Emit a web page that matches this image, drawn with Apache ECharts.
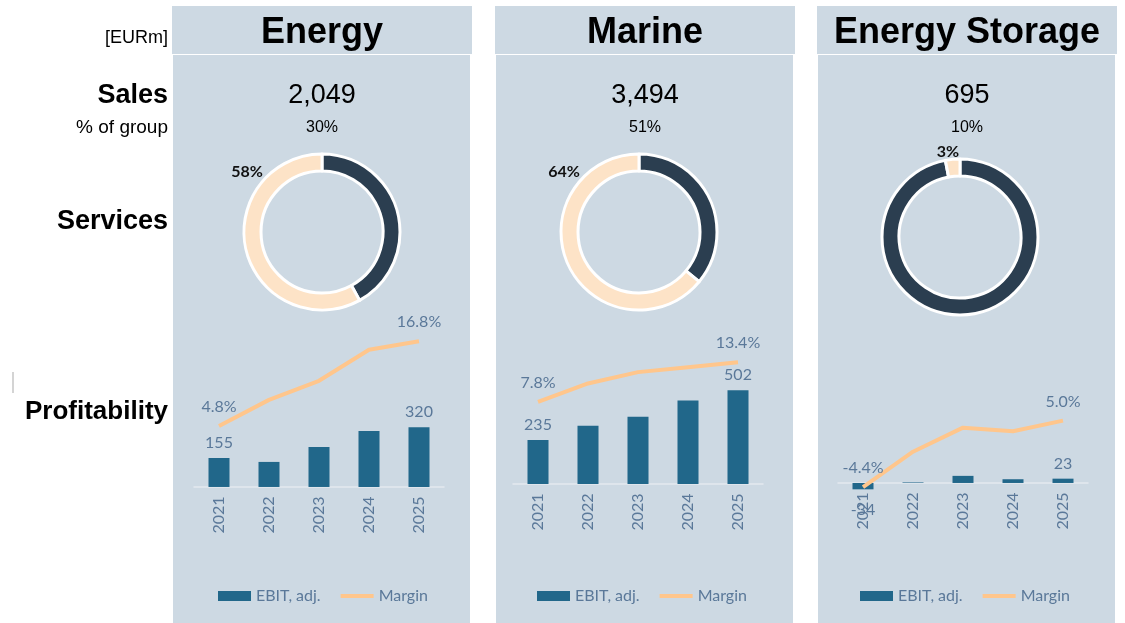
<!DOCTYPE html>
<html>
<head>
<meta charset="utf-8">
<script src="https://cdn.jsdelivr.net/npm/echarts@6/dist/echarts.min.js"></script>
<style>
  html, body { margin: 0; padding: 0; background: #ffffff; }
  #chart { width: 1125px; height: 623px; }
</style>
</head>
<body>
<div id="chart"></div>
<script>
// Segment names, group sales and services share
const segmentNames = ['Energy', 'Marine', 'Energy Storage'];
const salesValues = [2049, 3494, 695];
const salesSharePct = [30, 51, 10];
const servicesSharePct = [58, 64, 3];

// Profitability by year (EBIT adj. in EURm, margin in %)
const years = ['2021', '2022', '2023', '2024', '2025'];
const energyEbit = [155, 134, 214, 299, 320];
const energyMargin = [4.8, 8.5, 11.2, 15.6, 16.8];
const marineEbit = [235, 312, 360, 447, 502];
const marineMargin = [7.8, 10.4, 12.0, 12.7, 13.4];
const storageEbit = [-34, 3, 38, 20, 23];
const storageMargin = [-4.4, 0.6, 4.0, 3.5, 5.0];

const ebitBySegment = [energyEbit, marineEbit, storageEbit];
const marginBySegment = [energyMargin, marineMargin, storageMargin];

// Layout
const panelX = [172, 495, 817];
const panelW = 300;
const gridLeft = [194, 513, 838];
const gridTop = [309.4, 306.4, 305.4];
const donutCenters = [[322, 232], [639, 232], [960, 237]];
const donutLabelPos = [[247, 172], [564, 172], [948, 152]];
const legendLeft = [213, 532, 855];

const BG = '#CDD9E3';
const DARK = '#2B3E50';
const PEACH = '#FDE3C7';
const BAR = '#21678A';
const LINE = '#FFC68C';
const LABEL = '#5A7899';
const chartFont = 'Lato, "Open Sans", sans-serif';
const headFont = '"Liberation Sans", Arial, sans-serif';

const chart = echarts.init(document.getElementById('chart'), null, { renderer: 'canvas' });

const graphics = [];
// panel backgrounds, headings and sales figures
panelX.forEach((x, i) => {
  graphics.push({ type: 'rect', z: -10, shape: { x: x, y: 6, width: panelW, height: 48 }, style: { fill: BG } });
  graphics.push({ type: 'rect', z: -10, shape: { x: x + 1, y: 55, width: panelW - 3, height: 568 }, style: { fill: BG } });
  const cx = x + panelW / 2;
  graphics.push({ type: 'text', x: cx, y: 33, style: { text: segmentNames[i], font: 'bold 36px ' + headFont, fill: '#000', align: 'center', verticalAlign: 'middle' } });
  graphics.push({ type: 'text', x: cx, y: 96, style: { text: salesValues[i].toLocaleString('en-US'), font: '27px ' + headFont, fill: '#000', align: 'center', verticalAlign: 'middle' } });
  graphics.push({ type: 'text', x: cx, y: 128, style: { text: salesSharePct[i] + '%', font: '16px ' + headFont, fill: '#000', align: 'center', verticalAlign: 'middle' } });
  graphics.push({ type: 'text', x: donutLabelPos[i][0], y: donutLabelPos[i][1], style: { text: servicesSharePct[i] + '%', font: 'bold 16px ' + chartFont, fill: '#111', align: 'center', verticalAlign: 'middle' } });
});
// row captions
const rowCaptions = [
  { text: '[EURm]', y: 38, font: '18px ' + headFont },
  { text: 'Sales', y: 96, font: 'bold 27px ' + headFont },
  { text: '% of group', y: 128, font: '19px ' + headFont },
  { text: 'Services', y: 222, font: 'bold 27px ' + headFont },
  { text: 'Profitability', y: 412, font: 'bold 26px ' + headFont }
];
rowCaptions.forEach(c => {
  graphics.push({ type: 'text', x: 168, y: c.y, style: { text: c.text, font: c.font, fill: '#000', align: 'right', verticalAlign: 'middle' } });
});
graphics.push({ type: 'line', shape: { x1: 13, y1: 372, x2: 13, y2: 393 }, style: { stroke: '#D4D4D4', lineWidth: 2 } });

const grids = [], xAxes = [], yAxes = [], series = [], legends = [];

function edgeLabel(i, n) { return i === 0 || i === n - 1; }

for (let g = 0; g < 3; g++) {
  grids.push({ left: gridLeft[g], top: gridTop[g], width: 250, height: 200 });
  xAxes.push({
    type: 'category', gridIndex: g, data: years,
    axisTick: { show: false },
    axisLine: { onZero: true, onZeroAxisIndex: 2 * g, lineStyle: { color: '#E3E9EF', width: 1.5 } },
    axisLabel: { rotate: 90, margin: -13, fontSize: 16, color: LABEL, fontFamily: chartFont }
  });
  yAxes.push({ type: 'value', gridIndex: g, min: -120, max: 950, show: false, splitLine: { show: false } });
  yAxes.push({ type: 'value', gridIndex: g, min: -7, max: 21.3, show: false, splitLine: { show: false } });

  const ebit = ebitBySegment[g];
  const margin = marginBySegment[g];
  series.push({
    name: 'EBIT, adj.', type: 'bar', xAxisIndex: g, yAxisIndex: 2 * g,
    barWidth: 21, itemStyle: { color: BAR }, z: 2,
    data: ebit.map((v, i) => ({
      value: v,
      label: {
        show: edgeLabel(i, ebit.length),
        position: v < 0 ? 'bottom' : 'top',
        distance: v < 0 ? 13 : 7,
        fontSize: 16, color: LABEL, fontFamily: chartFont
      }
    }))
  });
  series.push({
    name: 'Margin', type: 'line', xAxisIndex: g, yAxisIndex: 2 * g + 1,
    symbol: 'circle', symbolSize: 0, showSymbol: true,
    lineStyle: { color: LINE, width: 4 }, itemStyle: { color: LINE }, z: 3,
    data: margin.map((v, i) => ({
      value: v,
      label: {
        show: edgeLabel(i, margin.length),
        position: 'top', distance: 11,
        formatter: p => p.value.toFixed(1) + '%',
        fontSize: 16, color: LABEL, fontFamily: chartFont
      }
    }))
  });
  // services donut: dark = other business, peach = services
  series.push({
    type: 'pie', center: donutCenters[g], radius: [61, 78], startAngle: 90, clockwise: true,
    silent: true, label: { show: false }, labelLine: { show: false },
    itemStyle: { borderColor: '#ffffff', borderWidth: 3 },
    data: [
      { value: 100 - servicesSharePct[g], itemStyle: { color: DARK } },
      { value: servicesSharePct[g], itemStyle: { color: PEACH } }
    ]
  });
  legends.push({
    left: legendLeft[g], top: 583, itemWidth: 33, itemHeight: 10, itemGap: 18,
    selectedMode: false,
    textStyle: { fontSize: 16, color: LABEL, fontFamily: chartFont },
    data: [
      { name: 'EBIT, adj.', icon: 'rect' },
      { name: 'Margin', itemStyle: { opacity: 0 }, lineStyle: { width: 4, color: LINE } }
    ]
  });
}

chart.setOption({
  animation: false,
  backgroundColor: '#ffffff',
  grid: grids,
  xAxis: xAxes,
  yAxis: yAxes,
  legend: legends,
  series: series,
  graphic: graphics
});
</script>
</body>
</html>
